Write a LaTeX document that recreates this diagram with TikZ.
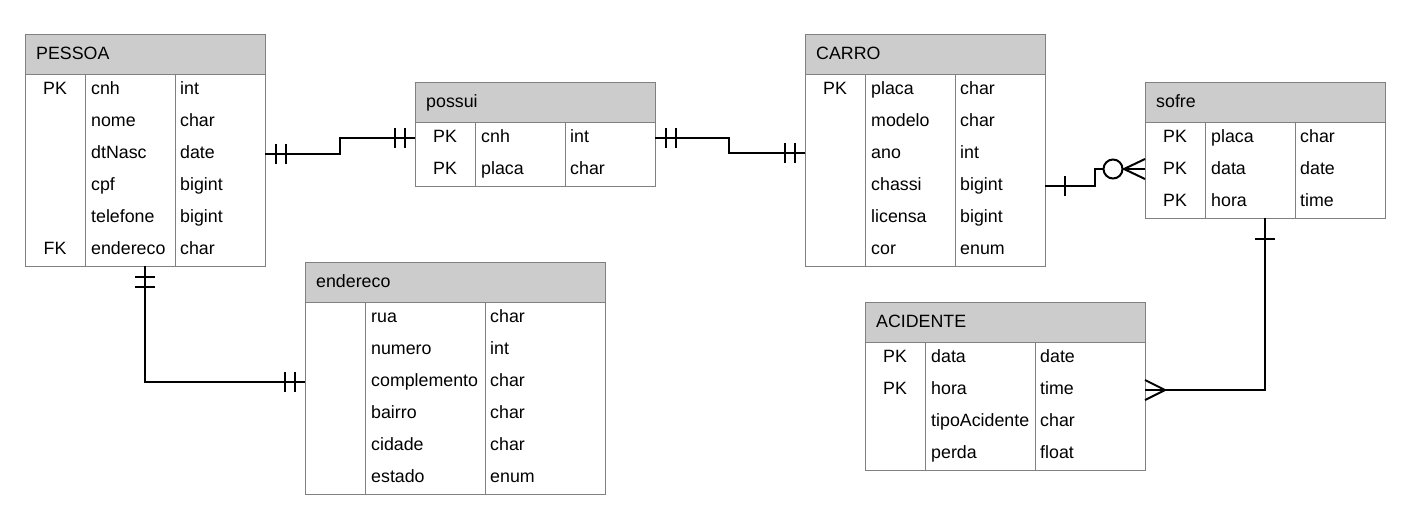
\documentclass[tikz,border=0pt]{standalone}
\usepackage{fontspec}
\setmainfont{Liberation Sans}
\definecolor{bordgray}{RGB}{128,128,128}
\definecolor{hdrgray}{RGB}{204,204,204}
\tikzset{
  bord/.style={draw=bordgray, line width=1pt},
  box/.style={bord, rectangle, inner sep=0pt, outer sep=0pt, fill=white},
  hdr/.style={bord, rectangle, inner sep=0pt, outer sep=0pt, fill=hdrgray, minimum height=40},
  txt/.style={inner sep=0pt, font=\fontsize{17.8}{21}\selectfont},
  conn/.style={draw=black, line width=2pt},
  zcirc/.style={circle, draw=black, line width=2pt, fill=white, minimum size=19, inner sep=0pt, outer sep=0pt},
}
% #1 name #2 left #3 top #4 width #5 rows #6 div1 #7 div2 #8 title #9 rows list
\newcommand\ertable[9]{%
  \node[box, minimum width=#4, minimum height={40+32*#5}, anchor=north west] (#1) at (#2,#3) {};
  \node[hdr, minimum width=#4, anchor=north west] (#1h) at (#2,#3) {};
  \node[txt, anchor=base west] (#1t) at (#2+11,#3+25) {#8};
  \draw[bord] (#2+#6,#3+40) -- (#2+#6,#3+40+32*#5);
  \draw[bord] (#2+#7,#3+40) -- (#2+#7,#3+40+32*#5);
  \foreach \k/\n/\t [count=\i] in {#9} {
    \node[txt, anchor=base] (#1k\i) at (#2+#6/2,#3+40+32*\i-12) {\k};
    \node[txt, anchor=base west] (#1n\i) at (#2+#6+6,#3+40+32*\i-12) {\n};
    \node[txt, anchor=base west] (#1y\i) at (#2+#7+5,#3+40+32*\i-12) {\t};
  }%
}
\begin{document}
\begin{tikzpicture}[x=1pt, y=-1pt]
\useasboundingbox (0,0) rectangle (1412,517);

\ertable{pessoa}{25}{34}{240}{6}{60}{150}{PESSOA}{PK/cnh/int, /nome/char, /dtNasc/date, /cpf/bigint, /telefone/bigint, FK/endereco/char}
\ertable{possui}{415}{82}{240}{2}{60}{150}{possui}{PK/cnh/int, PK/placa/char}
\ertable{carro}{805}{34}{240}{6}{60}{150}{CARRO}{PK/placa/char, /modelo/char, /ano/int, /chassi/bigint, /licensa/bigint, /cor/enum}
\ertable{sofre}{1145}{82}{240}{3}{60}{150}{sofre}{PK/placa/char, PK/data/date, PK/hora/time}
\ertable{endereco}{305}{262}{300}{6}{60}{180}{endereco}{/rua/char, /numero/int, /complemento/char, /bairro/char, /cidade/char, /estado/enum}
\ertable{acidente}{865}{302}{280}{4}{60}{170}{ACIDENTE}{PK/data/date, PK/hora/time, /tipoAcidente/char, /perda/float}

% PESSOA -- possui
\draw[conn] ([yshift=-120pt]pessoa.north east) -- ++(75,0) |- ([yshift=-56pt]possui.north west);
\draw[conn] (276,144) -- (276,164) (286,144) -- (286,164);
\draw[conn] (395,128) -- (395,148) (405,128) -- (405,148);

% possui -- CARRO
\draw[conn] ([yshift=-56pt]possui.north east) -- ++(74,0) |- ([yshift=-119pt]carro.north west);
\draw[conn] (666,128) -- (666,148) (676,128) -- (676,148);
\draw[conn] (785,143) -- (785,163) (795,143) -- (795,163);

% CARRO -- sofre
\node[zcirc] (zc) at (1113,169) {};
\draw[conn] ([yshift=-152pt]carro.north east) -- ++(50,0) |- (zc.west);
\draw[conn] (1065,176) -- (1065,196);
\draw[conn] (zc.east) -- ([yshift=-87pt]sofre.north west);
\draw[conn] (1124,169) -- (1145,159) (1124,169) -- (1145,179);

% sofre -- ACIDENTE
\draw[conn] ([xshift=120pt]sofre.south west) |- ([yshift=-88pt]acidente.north east);
\draw[conn] (1255,239) -- (1275,239);
\draw[conn] (1165,390) -- (1145,380) (1165,390) -- (1145,400);

% PESSOA -- endereco
\draw[conn] (pessoa.south) |- ([yshift=-120pt]endereco.north west);
\draw[conn] (135,277) -- (155,277) (135,287) -- (155,287);
\draw[conn] (285,372) -- (285,392) (295,372) -- (295,392);
\end{tikzpicture}
\end{document}
